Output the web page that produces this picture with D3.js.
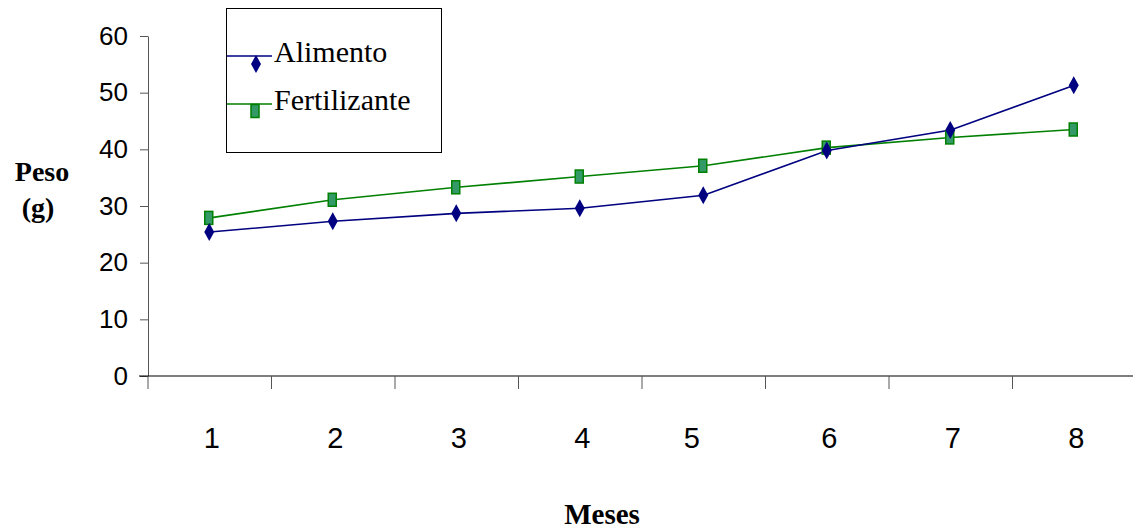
<!DOCTYPE html>
<html>
<head>
<meta charset="utf-8">
<script src="https://cdn.jsdelivr.net/npm/d3@7"></script>
<style>
  body { margin: 0; background: #fff; }
  svg { display: block; }
  .serif { font-family: "Liberation Serif", "Times New Roman", serif; }
  .sans { font-family: "Liberation Sans", Arial, sans-serif; }
</style>
</head>
<body>
<svg id="chart" width="1133" height="529"></svg>
<script>
var months = ["1", "2", "3", "4", "5", "6", "7", "8"]
var alimento = [25.4, 27.3, 28.7, 29.6, 31.9, 39.8, 43.4, 51.3]
var fertilizante = [27.9, 31.1, 33.3, 35.2, 37.1, 40.3, 42.1, 43.5]
var yTicks = [0, 10, 20, 30, 40, 50, 60]

var svg = d3.select("#chart")
var x = d3.scaleBand().domain(months).range([148, 1136])
var y = d3.scaleLinear().domain([0, 60]).range([376, 36])

var blue = "#000080", green = "#008000", greenFill = "#339966"

// y axis
var yAxis = svg.append("g").attr("transform", "translate(148,0)")
    .call(d3.axisLeft(y).tickValues(yTicks).tickSize(8).tickSizeOuter(0).tickPadding(12))
yAxis.attr("font-family", null).attr("font-size", null)
yAxis.select(".domain").attr("stroke", "#555")
yAxis.selectAll(".tick line").attr("stroke", "#555")
yAxis.selectAll(".tick text").attr("class", "sans")
    .style("font-size", "26px").attr("fill", "#000")

// x axis (ticks on band boundaries)
var xg = svg.append("g")
xg.append("line").attr("x1", 139).attr("x2", 1136).attr("y1", y(0)).attr("y2", y(0))
    .attr("stroke", "#000").attr("stroke-width", 1.2)
xg.selectAll(".xt").data(months).enter().append("line").attr("class", "xt")
    .attr("x1", function(d) { return x(d) }).attr("x2", function(d) { return x(d) })
    .attr("y1", y(0)).attr("y2", y(0) + 13)
    .attr("stroke", "#555")
xg.selectAll(".xl").data(months).enter().append("text").attr("class", "xl sans")
    .attr("x", function(d) { return x(d) + x.bandwidth() / 2 + (d == "5" ? -12 : 2) })
    .attr("y", 448)
    .attr("text-anchor", "middle")
    .style("font-size", "29px")
    .text(function(d) { return d })

// axis titles
svg.append("text").attr("class", "serif").attr("x", 42).attr("y", 181).attr("text-anchor", "middle")
    .style("font-weight", "bold").style("font-size", "28px").text("Peso")
svg.append("text").attr("class", "serif").attr("x", 38).attr("y", 217).attr("text-anchor", "middle")
    .style("font-weight", "bold").style("font-size", "28px").text("(g)")
svg.append("text").attr("class", "serif").attr("x", 602).attr("y", 524).attr("text-anchor", "middle")
    .style("font-weight", "bold").style("font-size", "29px").text("Meses")

// series
var line = d3.line()
    .x(function(d, i) { return x(months[i]) + x.bandwidth() / 2 })
    .y(function(d) { return y(d) })

svg.append("path").datum(fertilizante).attr("d", line)
    .attr("fill", "none").attr("stroke", green).attr("stroke-width", 1.6)
svg.append("path").datum(alimento).attr("d", line)
    .attr("fill", "none").attr("stroke", blue).attr("stroke-width", 1.6)

function diamond(cx, cy) {
    return "M" + cx + "," + (cy - 9) + "L" + (cx + 5) + "," + cy + "L" + cx + "," + (cy + 9) + "L" + (cx - 5) + "," + cy + "Z"
}

svg.selectAll(".sq").data(fertilizante).enter().append("rect").attr("class", "sq")
    .attr("x", function(d, i) { return x(months[i]) + x.bandwidth() / 2 - 5 })
    .attr("y", function(d) { return y(d) - 6.5 })
    .attr("width", 8).attr("height", 13)
    .attr("fill", greenFill).attr("stroke", green).attr("stroke-width", 1.5)

svg.selectAll(".dm").data(alimento).enter().append("path").attr("class", "dm")
    .attr("d", function(d, i) { return diamond(x(months[i]) + x.bandwidth() / 2 - 0.5, y(d)) })
    .attr("fill", blue)

// legend
var lg = svg.append("g")
lg.append("rect").attr("x", 226.5).attr("y", 8.5).attr("width", 215).attr("height", 144)
    .attr("fill", "#fff").attr("stroke", "#000").attr("stroke-width", 1)
var legendItems = [
    {name: "Alimento", color: blue, ly: 56},
    {name: "Fertilizante", color: green, ly: 104}
]
legendItems.forEach(function(it, k) {
    lg.append("line").attr("x1", 227).attr("x2", 272).attr("y1", it.ly).attr("y2", it.ly)
        .attr("stroke", it.color).attr("stroke-width", 1.6)
    if (k == 0) {
        lg.append("path").attr("d", diamond(256, it.ly + 8)).attr("fill", blue)
    } else {
        lg.append("rect").attr("x", 251).attr("y", it.ly + 0.5).attr("width", 8).attr("height", 13)
            .attr("fill", greenFill).attr("stroke", green).attr("stroke-width", 1.5)
    }
    lg.append("text").attr("class", "serif").attr("x", 274).attr("y", it.ly + 6)
        .style("font-size", "30px").text(it.name)
})
</script>
</body>
</html>
